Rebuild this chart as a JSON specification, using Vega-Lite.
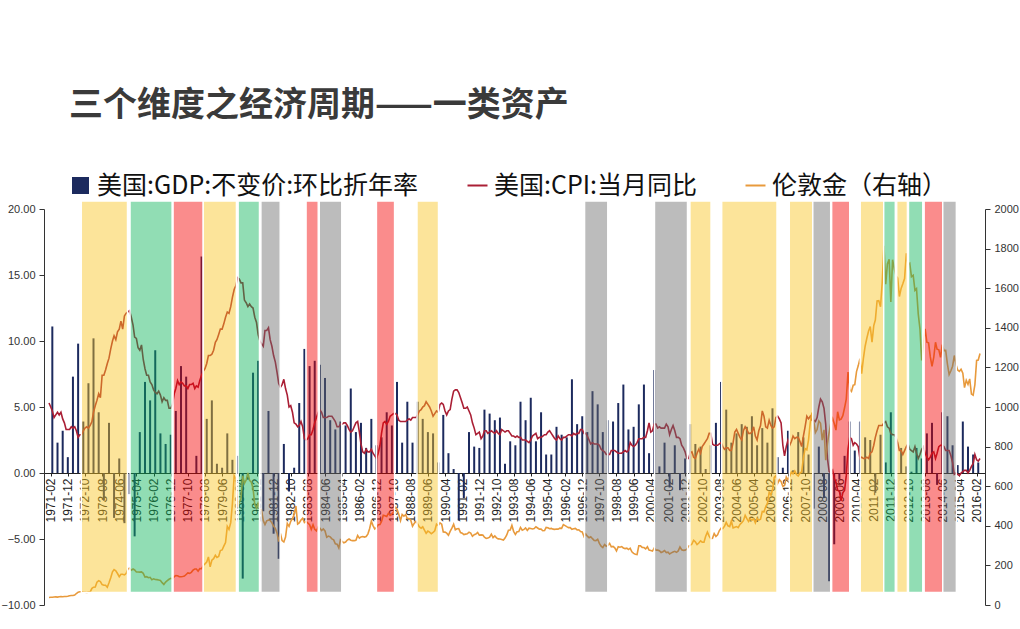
{
"$schema": "https://vega.github.io/schema/vega-lite/v6.json",
"width": 941, "height": 396,
"autosize": {"type": "none"},
"padding": {"left": 44, "top": 209, "right": 35, "bottom": 24},
"background": "white",
"title": {"text": "三个维度之经济周期——一类资产", "anchor": "start", "frame": "group", "dx": 25, "offset": 50, "font": "Noto Sans CJK SC", "fontSize": 34, "fontWeight": "bold", "color": "#3a3a3a"},
"config": {"view": {"stroke": null}, "font": "Liberation Sans", "axisX": {"labelOverlap": false, "labelSeparation": 0}, "axis": {"labelOverlap": false}},
"datasets": {
"gdp": [
{"d":"1971-03","v":11.1},{"d":"1971-06","v":2.3},{"d":"1971-09","v":3.2},{"d":"1971-12","v":1.2},
{"d":"1972-03","v":7.3},{"d":"1972-06","v":9.8},{"d":"1972-09","v":3.9},{"d":"1972-12","v":6.8},
{"d":"1973-03","v":10.2},{"d":"1973-06","v":4.6},{"d":"1973-09","v":-2.1},{"d":"1973-12","v":3.8},
{"d":"1974-03","v":-3.4},{"d":"1974-06","v":1.1},{"d":"1974-09","v":-3.8},{"d":"1974-12","v":-1.6},
{"d":"1975-03","v":-4.8},{"d":"1975-06","v":3.1},{"d":"1975-09","v":6.9},{"d":"1975-12","v":5.5},
{"d":"1976-03","v":9.3},{"d":"1976-06","v":3.0},{"d":"1976-09","v":2.2},{"d":"1976-12","v":2.9},
{"d":"1977-03","v":4.7},{"d":"1977-06","v":8.1},{"d":"1977-09","v":7.3},{"d":"1977-12","v":0.0},
{"d":"1978-03","v":1.3},{"d":"1978-06","v":16.4},{"d":"1978-09","v":4.1},{"d":"1978-12","v":5.5},
{"d":"1979-03","v":0.7},{"d":"1979-06","v":0.4},{"d":"1979-09","v":3.0},{"d":"1979-12","v":1.0},
{"d":"1980-03","v":1.3},{"d":"1980-06","v":-8.0},{"d":"1980-09","v":-0.5},{"d":"1980-12","v":7.6},
{"d":"1981-03","v":8.5},{"d":"1981-06","v":-2.9},{"d":"1981-09","v":4.7},{"d":"1981-12","v":-4.6},
{"d":"1982-03","v":-6.5},{"d":"1982-06","v":2.2},{"d":"1982-09","v":-1.4},{"d":"1982-12","v":0.4},
{"d":"1983-03","v":5.3},{"d":"1983-06","v":9.4},{"d":"1983-09","v":8.1},{"d":"1983-12","v":8.5},
{"d":"1984-03","v":8.2},{"d":"1984-06","v":7.2},{"d":"1984-09","v":4.0},{"d":"1984-12","v":3.3},
{"d":"1985-03","v":3.9},{"d":"1985-06","v":3.6},{"d":"1985-09","v":6.4},{"d":"1985-12","v":3.1},
{"d":"1986-03","v":3.8},{"d":"1986-06","v":1.9},{"d":"1986-09","v":4.1},{"d":"1986-12","v":2.1},
{"d":"1987-03","v":2.7},{"d":"1987-06","v":4.6},{"d":"1987-09","v":3.6},{"d":"1987-12","v":6.9},
{"d":"1988-03","v":2.3},{"d":"1988-06","v":5.4},{"d":"1988-09","v":2.3},{"d":"1988-12","v":5.4},
{"d":"1989-03","v":4.1},{"d":"1989-06","v":3.1},{"d":"1989-09","v":3.0},{"d":"1989-12","v":0.8},
{"d":"1990-03","v":4.4},{"d":"1990-06","v":1.5},{"d":"1990-09","v":0.3},{"d":"1990-12","v":-3.6},
{"d":"1991-03","v":-1.9},{"d":"1991-06","v":3.1},{"d":"1991-09","v":2.0},{"d":"1991-12","v":1.9},
{"d":"1992-03","v":4.8},{"d":"1992-06","v":4.5},{"d":"1992-09","v":4.0},{"d":"1992-12","v":4.2},
{"d":"1993-03","v":0.7},{"d":"1993-06","v":2.4},{"d":"1993-09","v":2.1},{"d":"1993-12","v":5.4},
{"d":"1994-03","v":4.0},{"d":"1994-06","v":5.7},{"d":"1994-09","v":2.4},{"d":"1994-12","v":4.6},
{"d":"1995-03","v":1.4},{"d":"1995-06","v":1.4},{"d":"1995-09","v":3.5},{"d":"1995-12","v":2.9},
{"d":"1996-03","v":2.7},{"d":"1996-06","v":7.1},{"d":"1996-09","v":3.7},{"d":"1996-12","v":4.3},
{"d":"1997-03","v":3.1},{"d":"1997-06","v":6.2},{"d":"1997-09","v":5.2},{"d":"1997-12","v":3.1},
{"d":"1998-03","v":4.0},{"d":"1998-06","v":3.9},{"d":"1998-09","v":5.3},{"d":"1998-12","v":6.7},
{"d":"1999-03","v":3.3},{"d":"1999-06","v":3.5},{"d":"1999-09","v":5.2},{"d":"1999-12","v":6.7},
{"d":"2000-03","v":1.5},{"d":"2000-06","v":7.8},{"d":"2000-09","v":0.5},{"d":"2000-12","v":2.3},
{"d":"2001-03","v":-1.1},{"d":"2001-06","v":2.1},{"d":"2001-09","v":-1.3},{"d":"2001-12","v":1.1},
{"d":"2002-03","v":3.7},{"d":"2002-06","v":2.2},{"d":"2002-09","v":2.0},{"d":"2002-12","v":0.3},
{"d":"2003-03","v":2.1},{"d":"2003-06","v":3.8},{"d":"2003-09","v":6.9},{"d":"2003-12","v":4.8},
{"d":"2004-03","v":2.3},{"d":"2004-06","v":3.0},{"d":"2004-09","v":3.7},{"d":"2004-12","v":3.5},
{"d":"2005-03","v":4.3},{"d":"2005-06","v":2.1},{"d":"2005-09","v":3.4},{"d":"2005-12","v":2.3},
{"d":"2006-03","v":4.9},{"d":"2006-06","v":1.2},{"d":"2006-09","v":0.4},{"d":"2006-12","v":3.2},
{"d":"2007-03","v":0.2},{"d":"2007-06","v":3.1},{"d":"2007-09","v":2.7},{"d":"2007-12","v":1.4},
{"d":"2008-03","v":-2.7},{"d":"2008-06","v":2.0},{"d":"2008-09","v":-1.9},{"d":"2008-12","v":-8.2},
{"d":"2009-03","v":-5.4},{"d":"2009-06","v":-0.5},{"d":"2009-09","v":1.3},{"d":"2009-12","v":3.9},
{"d":"2010-03","v":1.7},{"d":"2010-06","v":3.9},{"d":"2010-09","v":2.7},{"d":"2010-12","v":2.5},
{"d":"2011-03","v":-1.5},{"d":"2011-06","v":2.9},{"d":"2011-09","v":0.8},{"d":"2011-12","v":4.6},
{"d":"2012-03","v":2.7},{"d":"2012-06","v":1.9},{"d":"2012-09","v":0.5},{"d":"2012-12","v":0.1},
{"d":"2013-03","v":1.9},{"d":"2013-06","v":1.1},{"d":"2013-09","v":3.0},{"d":"2013-12","v":3.8},
{"d":"2014-03","v":-0.9},{"d":"2014-06","v":4.6},{"d":"2014-09","v":4.3},{"d":"2014-12","v":2.1},
{"d":"2015-03","v":0.6},{"d":"2015-06","v":3.9},{"d":"2015-09","v":2.0},{"d":"2015-12","v":1.4},
{"d":"2016-03","v":0.8}
],
"m": [
{"d":"1971-01","c":5.3,"g":38},{"d":"1971-02","c":5.0,"g":39},{"d":"1971-03","c":4.7,"g":39},{"d":"1971-04","c":4.2,"g":40},{"d":"1971-05","c":4.4,"g":41},{"d":"1971-06","c":4.6,"g":40},{"d":"1971-07","c":4.4,"g":42},{"d":"1971-08","c":4.6,"g":43},{"d":"1971-09","c":4.1,"g":42},{"d":"1971-10","c":3.8,"g":43},{"d":"1971-11","c":3.3,"g":43},{"d":"1971-12","c":3.3,"g":44},
{"d":"1972-01","c":3.3,"g":47},{"d":"1972-02","c":3.5,"g":48},{"d":"1972-03","c":3.4,"g":48},{"d":"1972-04","c":3.5,"g":50},{"d":"1972-05","c":3.2,"g":58},{"d":"1972-06","c":2.7,"g":65},{"d":"1972-07","c":2.9,"g":67},{"d":"1972-08","c":2.9,"g":67},{"d":"1972-09","c":3.2,"g":65},{"d":"1972-10","c":3.4,"g":64},{"d":"1972-11","c":3.5,"g":63},{"d":"1972-12","c":3.4,"g":65},
{"d":"1973-01","c":3.6,"g":66},{"d":"1973-02","c":3.9,"g":84},{"d":"1973-03","c":4.6,"g":90},{"d":"1973-04","c":5.1,"g":91},{"d":"1973-05","c":5.5,"g":115},{"d":"1973-06","c":6.0,"g":123},{"d":"1973-07","c":5.7,"g":118},{"d":"1973-08","c":7.4,"g":103},{"d":"1973-09","c":7.4,"g":100},{"d":"1973-10","c":7.8,"g":100},{"d":"1973-11","c":8.3,"g":90},{"d":"1973-12","c":8.7,"g":112},
{"d":"1974-01","c":9.4,"g":138},{"d":"1974-02","c":10.0,"g":168},{"d":"1974-03","c":10.4,"g":179},{"d":"1974-04","c":10.1,"g":173},{"d":"1974-05","c":10.7,"g":159},{"d":"1974-06","c":10.9,"g":143},{"d":"1974-07","c":11.5,"g":155},{"d":"1974-08","c":10.9,"g":155},{"d":"1974-09","c":11.9,"g":152},{"d":"1974-10","c":12.1,"g":159},{"d":"1974-11","c":12.2,"g":182},{"d":"1974-12","c":12.3,"g":187},
{"d":"1975-01","c":11.8,"g":176},{"d":"1975-02","c":11.2,"g":182},{"d":"1975-03","c":10.3,"g":177},{"d":"1975-04","c":10.2,"g":167},{"d":"1975-05","c":9.5,"g":167},{"d":"1975-06","c":9.3,"g":166},{"d":"1975-07","c":9.7,"g":167},{"d":"1975-08","c":8.6,"g":160},{"d":"1975-09","c":7.9,"g":141},{"d":"1975-10","c":7.4,"g":143},{"d":"1975-11","c":7.4,"g":138},{"d":"1975-12","c":6.9,"g":140},
{"d":"1976-01","c":6.7,"g":128},{"d":"1976-02","c":6.3,"g":132},{"d":"1976-03","c":6.1,"g":129},{"d":"1976-04","c":6.0,"g":128},{"d":"1976-05","c":6.2,"g":126},{"d":"1976-06","c":5.9,"g":124},{"d":"1976-07","c":5.4,"g":113},{"d":"1976-08","c":5.7,"g":104},{"d":"1976-09","c":5.5,"g":116},{"d":"1976-10","c":5.5,"g":123},{"d":"1976-11","c":4.9,"g":130},{"d":"1976-12","c":4.9,"g":135},
{"d":"1977-01","c":5.2,"g":132},{"d":"1977-02","c":6.0,"g":143},{"d":"1977-03","c":6.4,"g":149},{"d":"1977-04","c":7.0,"g":148},{"d":"1977-05","c":6.7,"g":143},{"d":"1977-06","c":6.9,"g":143},{"d":"1977-07","c":6.8,"g":144},{"d":"1977-08","c":6.6,"g":146},{"d":"1977-09","c":6.6,"g":154},{"d":"1977-10","c":6.4,"g":162},{"d":"1977-11","c":6.7,"g":160},{"d":"1977-12","c":6.7,"g":165},
{"d":"1978-01","c":6.8,"g":176},{"d":"1978-02","c":6.4,"g":182},{"d":"1978-03","c":6.6,"g":182},{"d":"1978-04","c":6.5,"g":171},{"d":"1978-05","c":7.0,"g":184},{"d":"1978-06","c":7.4,"g":183},{"d":"1978-07","c":7.7,"g":200},{"d":"1978-08","c":7.9,"g":208},{"d":"1978-09","c":8.3,"g":217},{"d":"1978-10","c":8.9,"g":243},{"d":"1978-11","c":8.9,"g":193},{"d":"1978-12","c":9.0,"g":226},
{"d":"1979-01","c":9.3,"g":234},{"d":"1979-02","c":9.9,"g":251},{"d":"1979-03","c":10.1,"g":240},{"d":"1979-04","c":10.5,"g":245},{"d":"1979-05","c":10.9,"g":275},{"d":"1979-06","c":10.9,"g":278},{"d":"1979-07","c":11.3,"g":297},{"d":"1979-08","c":11.8,"g":315},{"d":"1979-09","c":12.2,"g":397},{"d":"1979-10","c":12.1,"g":382},{"d":"1979-11","c":12.6,"g":416},{"d":"1979-12","c":13.3,"g":512},
{"d":"1980-01","c":13.9,"g":653},{"d":"1980-02","c":14.2,"g":637},{"d":"1980-03","c":14.8,"g":495},{"d":"1980-04","c":14.7,"g":518},{"d":"1980-05","c":14.4,"g":536},{"d":"1980-06","c":14.4,"g":653},{"d":"1980-07","c":13.1,"g":614},{"d":"1980-08","c":12.9,"g":631},{"d":"1980-09","c":12.6,"g":667},{"d":"1980-10","c":12.8,"g":629},{"d":"1980-11","c":12.6,"g":620},{"d":"1980-12","c":12.5,"g":590},
{"d":"1981-01","c":11.8,"g":507},{"d":"1981-02","c":11.4,"g":489},{"d":"1981-03","c":10.5,"g":514},{"d":"1981-04","c":10.0,"g":483},{"d":"1981-05","c":9.8,"g":479},{"d":"1981-06","c":9.6,"g":426},{"d":"1981-07","c":10.8,"g":406},{"d":"1981-08","c":10.8,"g":425},{"d":"1981-09","c":11.0,"g":429},{"d":"1981-10","c":10.1,"g":427},{"d":"1981-11","c":9.6,"g":415},{"d":"1981-12","c":8.9,"g":398},
{"d":"1982-01","c":8.4,"g":387},{"d":"1982-02","c":7.6,"g":363},{"d":"1982-03","c":6.8,"g":320},{"d":"1982-04","c":6.5,"g":361},{"d":"1982-05","c":6.7,"g":325},{"d":"1982-06","c":7.1,"g":318},{"d":"1982-07","c":6.4,"g":343},{"d":"1982-08","c":5.9,"g":412},{"d":"1982-09","c":5.0,"g":397},{"d":"1982-10","c":5.1,"g":423},{"d":"1982-11","c":4.6,"g":436},{"d":"1982-12","c":3.8,"g":457},
{"d":"1983-01","c":3.7,"g":500},{"d":"1983-02","c":3.5,"g":409},{"d":"1983-03","c":3.6,"g":415},{"d":"1983-04","c":3.9,"g":429},{"d":"1983-05","c":3.5,"g":438},{"d":"1983-06","c":2.6,"g":416},{"d":"1983-07","c":2.5,"g":422},{"d":"1983-08","c":2.6,"g":414},{"d":"1983-09","c":2.9,"g":405},{"d":"1983-10","c":2.9,"g":382},{"d":"1983-11","c":3.3,"g":405},{"d":"1983-12","c":3.8,"g":382},
{"d":"1984-01","c":4.2,"g":374},{"d":"1984-02","c":4.6,"g":394},{"d":"1984-03","c":4.8,"g":389},{"d":"1984-04","c":4.6,"g":376},{"d":"1984-05","c":4.2,"g":384},{"d":"1984-06","c":4.2,"g":374},{"d":"1984-07","c":4.2,"g":342},{"d":"1984-08","c":4.3,"g":348},{"d":"1984-09","c":4.3,"g":344},{"d":"1984-10","c":4.3,"g":334},{"d":"1984-11","c":4.1,"g":329},{"d":"1984-12","c":3.9,"g":309},
{"d":"1985-01","c":3.5,"g":307},{"d":"1985-02","c":3.5,"g":288},{"d":"1985-03","c":3.7,"g":329},{"d":"1985-04","c":3.7,"g":321},{"d":"1985-05","c":3.8,"g":314},{"d":"1985-06","c":3.8,"g":318},{"d":"1985-07","c":3.6,"g":328},{"d":"1985-08","c":3.3,"g":333},{"d":"1985-09","c":3.1,"g":327},{"d":"1985-10","c":3.2,"g":325},{"d":"1985-11","c":3.5,"g":325},{"d":"1985-12","c":3.8,"g":327},
{"d":"1986-01","c":3.9,"g":351},{"d":"1986-02","c":3.1,"g":338},{"d":"1986-03","c":2.2,"g":344},{"d":"1986-04","c":1.6,"g":346},{"d":"1986-05","c":1.5,"g":343},{"d":"1986-06","c":1.8,"g":346},{"d":"1986-07","c":1.6,"g":358},{"d":"1986-08","c":1.6,"g":385},{"d":"1986-09","c":1.8,"g":423},{"d":"1986-10","c":1.5,"g":401},{"d":"1986-11","c":1.3,"g":384},{"d":"1986-12","c":1.1,"g":391},
{"d":"1987-01","c":1.5,"g":405},{"d":"1987-02","c":2.1,"g":406},{"d":"1987-03","c":3.0,"g":422},{"d":"1987-04","c":3.8,"g":453},{"d":"1987-05","c":3.9,"g":451},{"d":"1987-06","c":3.7,"g":447},{"d":"1987-07","c":3.9,"g":463},{"d":"1987-08","c":4.3,"g":453},{"d":"1987-09","c":4.4,"g":460},{"d":"1987-10","c":4.5,"g":469},{"d":"1987-11","c":4.5,"g":493},{"d":"1987-12","c":4.4,"g":484},
{"d":"1988-01","c":4.0,"g":458},{"d":"1988-02","c":3.9,"g":426},{"d":"1988-03","c":3.9,"g":457},{"d":"1988-04","c":3.9,"g":449},{"d":"1988-05","c":3.9,"g":456},{"d":"1988-06","c":4.0,"g":437},{"d":"1988-07","c":4.1,"g":437},{"d":"1988-08","c":4.0,"g":428},{"d":"1988-09","c":4.2,"g":398},{"d":"1988-10","c":4.2,"g":412},{"d":"1988-11","c":4.2,"g":423},{"d":"1988-12","c":4.4,"g":410},
{"d":"1989-01","c":4.7,"g":394},{"d":"1989-02","c":4.8,"g":388},{"d":"1989-03","c":5.0,"g":395},{"d":"1989-04","c":5.1,"g":378},{"d":"1989-05","c":5.4,"g":362},{"d":"1989-06","c":5.2,"g":373},{"d":"1989-07","c":5.0,"g":368},{"d":"1989-08","c":4.7,"g":360},{"d":"1989-09","c":4.3,"g":367},{"d":"1989-10","c":4.5,"g":375},{"d":"1989-11","c":4.7,"g":408},{"d":"1989-12","c":4.6,"g":401},
{"d":"1990-01","c":5.2,"g":415},{"d":"1990-02","c":5.3,"g":408},{"d":"1990-03","c":5.2,"g":369},{"d":"1990-04","c":4.7,"g":368},{"d":"1990-05","c":4.4,"g":363},{"d":"1990-06","c":4.7,"g":352},{"d":"1990-07","c":4.8,"g":372},{"d":"1990-08","c":5.6,"g":388},{"d":"1990-09","c":6.2,"g":408},{"d":"1990-10","c":6.3,"g":380},{"d":"1990-11","c":6.3,"g":385},{"d":"1990-12","c":6.1,"g":386},
{"d":"1991-01","c":5.7,"g":366},{"d":"1991-02","c":5.3,"g":363},{"d":"1991-03","c":4.9,"g":356},{"d":"1991-04","c":4.9,"g":358},{"d":"1991-05","c":5.0,"g":360},{"d":"1991-06","c":4.7,"g":368},{"d":"1991-07","c":4.4,"g":363},{"d":"1991-08","c":3.8,"g":347},{"d":"1991-09","c":3.4,"g":355},{"d":"1991-10","c":2.9,"g":358},{"d":"1991-11","c":3.0,"g":366},{"d":"1991-12","c":3.1,"g":353},
{"d":"1992-01","c":2.6,"g":354},{"d":"1992-02","c":2.8,"g":353},{"d":"1992-03","c":3.2,"g":342},{"d":"1992-04","c":3.2,"g":336},{"d":"1992-05","c":3.0,"g":338},{"d":"1992-06","c":3.1,"g":343},{"d":"1992-07","c":3.2,"g":358},{"d":"1992-08","c":3.1,"g":340},{"d":"1992-09","c":3.0,"g":349},{"d":"1992-10","c":3.2,"g":339},{"d":"1992-11","c":3.0,"g":334},{"d":"1992-12","c":2.9,"g":333},
{"d":"1993-01","c":3.3,"g":331},{"d":"1993-02","c":3.2,"g":328},{"d":"1993-03","c":3.1,"g":338},{"d":"1993-04","c":3.2,"g":354},{"d":"1993-05","c":3.2,"g":378},{"d":"1993-06","c":3.0,"g":379},{"d":"1993-07","c":2.8,"g":402},{"d":"1993-08","c":2.8,"g":372},{"d":"1993-09","c":2.7,"g":356},{"d":"1993-10","c":2.8,"g":370},{"d":"1993-11","c":2.7,"g":371},{"d":"1993-12","c":2.7,"g":392},
{"d":"1994-01","c":2.5,"g":378},{"d":"1994-02","c":2.5,"g":382},{"d":"1994-03","c":2.5,"g":389},{"d":"1994-04","c":2.4,"g":377},{"d":"1994-05","c":2.3,"g":388},{"d":"1994-06","c":2.5,"g":386},{"d":"1994-07","c":2.8,"g":384},{"d":"1994-08","c":2.9,"g":386},{"d":"1994-09","c":3.0,"g":395},{"d":"1994-10","c":2.6,"g":389},{"d":"1994-11","c":2.7,"g":383},{"d":"1994-12","c":2.7,"g":383},
{"d":"1995-01","c":2.8,"g":375},{"d":"1995-02","c":2.9,"g":376},{"d":"1995-03","c":2.9,"g":392},{"d":"1995-04","c":3.1,"g":390},{"d":"1995-05","c":3.2,"g":385},{"d":"1995-06","c":3.0,"g":387},{"d":"1995-07","c":2.8,"g":383},{"d":"1995-08","c":2.6,"g":382},{"d":"1995-09","c":2.5,"g":384},{"d":"1995-10","c":2.8,"g":383},{"d":"1995-11","c":2.6,"g":388},{"d":"1995-12","c":2.5,"g":387},
{"d":"1996-01","c":2.7,"g":406},{"d":"1996-02","c":2.7,"g":401},{"d":"1996-03","c":2.8,"g":396},{"d":"1996-04","c":2.9,"g":391},{"d":"1996-05","c":2.9,"g":391},{"d":"1996-06","c":2.8,"g":382},{"d":"1996-07","c":3.0,"g":385},{"d":"1996-08","c":2.9,"g":387},{"d":"1996-09","c":3.0,"g":379},{"d":"1996-10","c":3.0,"g":380},{"d":"1996-11","c":3.3,"g":371},{"d":"1996-12","c":3.3,"g":369},
{"d":"1997-01","c":3.0,"g":346},{"d":"1997-02","c":3.0,"g":359},{"d":"1997-03","c":2.8,"g":348},{"d":"1997-04","c":2.5,"g":340},{"d":"1997-05","c":2.2,"g":345},{"d":"1997-06","c":2.3,"g":335},{"d":"1997-07","c":2.2,"g":326},{"d":"1997-08","c":2.2,"g":325},{"d":"1997-09","c":2.2,"g":332},{"d":"1997-10","c":2.1,"g":311},{"d":"1997-11","c":1.8,"g":297},{"d":"1997-12","c":1.7,"g":290},
{"d":"1998-01","c":1.6,"g":305},{"d":"1998-02","c":1.4,"g":297},{"d":"1998-03","c":1.4,"g":301},{"d":"1998-04","c":1.4,"g":311},{"d":"1998-05","c":1.7,"g":294},{"d":"1998-06","c":1.7,"g":296},{"d":"1998-07","c":1.7,"g":289},{"d":"1998-08","c":1.6,"g":273},{"d":"1998-09","c":1.5,"g":294},{"d":"1998-10","c":1.5,"g":292},{"d":"1998-11","c":1.5,"g":295},{"d":"1998-12","c":1.6,"g":288},
{"d":"1999-01","c":1.7,"g":285},{"d":"1999-02","c":1.6,"g":287},{"d":"1999-03","c":1.7,"g":280},{"d":"1999-04","c":2.3,"g":287},{"d":"1999-05","c":2.1,"g":269},{"d":"1999-06","c":2.0,"g":261},{"d":"1999-07","c":2.1,"g":256},{"d":"1999-08","c":2.3,"g":255},{"d":"1999-09","c":2.6,"g":299},{"d":"1999-10","c":2.6,"g":299},{"d":"1999-11","c":2.6,"g":291},{"d":"1999-12","c":2.7,"g":290},
{"d":"2000-01","c":2.7,"g":283},{"d":"2000-02","c":3.2,"g":294},{"d":"2000-03","c":3.8,"g":277},{"d":"2000-04","c":3.1,"g":275},{"d":"2000-05","c":3.2,"g":272},{"d":"2000-06","c":3.7,"g":288},{"d":"2000-07","c":3.7,"g":277},{"d":"2000-08","c":3.4,"g":277},{"d":"2000-09","c":3.5,"g":274},{"d":"2000-10","c":3.4,"g":265},{"d":"2000-11","c":3.4,"g":269},{"d":"2000-12","c":3.4,"g":275},
{"d":"2001-01","c":3.7,"g":265},{"d":"2001-02","c":3.5,"g":267},{"d":"2001-03","c":2.9,"g":258},{"d":"2001-04","c":3.3,"g":263},{"d":"2001-05","c":3.6,"g":268},{"d":"2001-06","c":3.2,"g":271},{"d":"2001-07","c":2.7,"g":266},{"d":"2001-08","c":2.7,"g":273},{"d":"2001-09","c":2.6,"g":293},{"d":"2001-10","c":2.1,"g":279},{"d":"2001-11","c":1.9,"g":276},{"d":"2001-12","c":1.6,"g":277},
{"d":"2002-01","c":1.1,"g":282},{"d":"2002-02","c":1.1,"g":297},{"d":"2002-03","c":1.5,"g":301},{"d":"2002-04","c":1.6,"g":308},{"d":"2002-05","c":1.2,"g":327},{"d":"2002-06","c":1.1,"g":319},{"d":"2002-07","c":1.5,"g":305},{"d":"2002-08","c":1.8,"g":313},{"d":"2002-09","c":1.5,"g":324},{"d":"2002-10","c":2.0,"g":317},{"d":"2002-11","c":2.2,"g":317},{"d":"2002-12","c":2.4,"g":347},
{"d":"2003-01","c":2.6,"g":368},{"d":"2003-02","c":3.0,"g":348},{"d":"2003-03","c":3.0,"g":335},{"d":"2003-04","c":2.2,"g":337},{"d":"2003-05","c":2.1,"g":361},{"d":"2003-06","c":2.1,"g":346},{"d":"2003-07","c":2.1,"g":355},{"d":"2003-08","c":2.2,"g":376},{"d":"2003-09","c":2.3,"g":388},{"d":"2003-10","c":2.0,"g":386},{"d":"2003-11","c":1.8,"g":398},{"d":"2003-12","c":1.9,"g":417},
{"d":"2004-01","c":1.9,"g":400},{"d":"2004-02","c":1.7,"g":396},{"d":"2004-03","c":1.7,"g":424},{"d":"2004-04","c":2.3,"g":389},{"d":"2004-05","c":3.1,"g":393},{"d":"2004-06","c":3.3,"g":396},{"d":"2004-07","c":3.0,"g":391},{"d":"2004-08","c":2.7,"g":407},{"d":"2004-09","c":2.5,"g":416},{"d":"2004-10","c":3.2,"g":426},{"d":"2004-11","c":3.5,"g":453},{"d":"2004-12","c":3.3,"g":436},
{"d":"2005-01","c":3.0,"g":422},{"d":"2005-02","c":3.0,"g":436},{"d":"2005-03","c":3.1,"g":428},{"d":"2005-04","c":3.5,"g":436},{"d":"2005-05","c":2.8,"g":415},{"d":"2005-06","c":2.5,"g":437},{"d":"2005-07","c":3.2,"g":429},{"d":"2005-08","c":3.6,"g":433},{"d":"2005-09","c":4.7,"g":473},{"d":"2005-10","c":4.3,"g":471},{"d":"2005-11","c":3.5,"g":496},{"d":"2005-12","c":3.4,"g":513},
{"d":"2006-01","c":4.0,"g":569},{"d":"2006-02","c":3.6,"g":556},{"d":"2006-03","c":3.4,"g":582},{"d":"2006-04","c":3.5,"g":644},{"d":"2006-05","c":4.2,"g":653},{"d":"2006-06","c":4.3,"g":614},{"d":"2006-07","c":4.1,"g":633},{"d":"2006-08","c":3.8,"g":624},{"d":"2006-09","c":2.1,"g":599},{"d":"2006-10","c":1.3,"g":604},{"d":"2006-11","c":2.0,"g":647},{"d":"2006-12","c":2.5,"g":632},
{"d":"2007-01","c":2.1,"g":651},{"d":"2007-02","c":2.4,"g":672},{"d":"2007-03","c":2.8,"g":662},{"d":"2007-04","c":2.6,"g":677},{"d":"2007-05","c":2.7,"g":659},{"d":"2007-06","c":2.7,"g":651},{"d":"2007-07","c":2.4,"g":666},{"d":"2007-08","c":2.0,"g":672},{"d":"2007-09","c":2.8,"g":743},{"d":"2007-10","c":3.5,"g":790},{"d":"2007-11","c":4.3,"g":784},{"d":"2007-12","c":4.1,"g":834},
{"d":"2008-01","c":4.3,"g":923},{"d":"2008-02","c":4.0,"g":972},{"d":"2008-03","c":4.0,"g":934},{"d":"2008-04","c":3.9,"g":871},{"d":"2008-05","c":4.2,"g":886},{"d":"2008-06","c":5.0,"g":930},{"d":"2008-07","c":5.6,"g":918},{"d":"2008-08","c":5.4,"g":833},{"d":"2008-09","c":4.9,"g":885},{"d":"2008-10","c":3.7,"g":731},{"d":"2008-11","c":1.1,"g":815},{"d":"2008-12","c":0.1,"g":870},
{"d":"2009-01","c":0.0,"g":920},{"d":"2009-02","c":0.2,"g":942},{"d":"2009-03","c":-0.4,"g":917},{"d":"2009-04","c":-0.7,"g":883},{"d":"2009-05","c":-1.3,"g":976},{"d":"2009-06","c":-1.4,"g":935},{"d":"2009-07","c":-2.1,"g":939},{"d":"2009-08","c":-1.5,"g":956},{"d":"2009-09","c":-1.3,"g":996},{"d":"2009-10","c":-0.2,"g":1040},{"d":"2009-11","c":1.8,"g":1176},{"d":"2009-12","c":2.7,"g":1088},
{"d":"2010-01","c":2.6,"g":1079},{"d":"2010-02","c":2.1,"g":1110},{"d":"2010-03","c":2.3,"g":1113},{"d":"2010-04","c":2.2,"g":1179},{"d":"2010-05","c":2.0,"g":1208},{"d":"2010-06","c":1.1,"g":1244},{"d":"2010-07","c":1.2,"g":1169},{"d":"2010-08","c":1.1,"g":1246},{"d":"2010-09","c":1.1,"g":1307},{"d":"2010-10","c":1.2,"g":1347},{"d":"2010-11","c":1.1,"g":1384},{"d":"2010-12","c":1.5,"g":1406},
{"d":"2011-01","c":1.6,"g":1327},{"d":"2011-02","c":2.1,"g":1411},{"d":"2011-03","c":2.7,"g":1439},{"d":"2011-04","c":3.2,"g":1536},{"d":"2011-05","c":3.6,"g":1537},{"d":"2011-06","c":3.6,"g":1506},{"d":"2011-07","c":3.6,"g":1629},{"d":"2011-08","c":3.8,"g":1814},{"d":"2011-09","c":3.9,"g":1620},{"d":"2011-10","c":3.5,"g":1722},{"d":"2011-11","c":3.4,"g":1746},{"d":"2011-12","c":3.0,"g":1531},
{"d":"2012-01","c":2.9,"g":1744},{"d":"2012-02","c":2.9,"g":1697},{"d":"2012-03","c":2.7,"g":1663},{"d":"2012-04","c":2.3,"g":1651},{"d":"2012-05","c":1.7,"g":1558},{"d":"2012-06","c":1.7,"g":1599},{"d":"2012-07","c":1.4,"g":1622},{"d":"2012-08","c":1.7,"g":1649},{"d":"2012-09","c":2.0,"g":1776},{"d":"2012-10","c":2.2,"g":1719},{"d":"2012-11","c":1.8,"g":1726},{"d":"2012-12","c":1.7,"g":1658},
{"d":"2013-01","c":1.6,"g":1665},{"d":"2013-02","c":2.0,"g":1589},{"d":"2013-03","c":1.5,"g":1598},{"d":"2013-04","c":1.1,"g":1469},{"d":"2013-05","c":1.4,"g":1395},{"d":"2013-06","c":1.8,"g":1235},{"d":"2013-07","c":2.0,"g":1315},{"d":"2013-08","c":1.5,"g":1395},{"d":"2013-09","c":1.2,"g":1327},{"d":"2013-10","c":1.0,"g":1324},{"d":"2013-11","c":1.2,"g":1253},{"d":"2013-12","c":1.5,"g":1205},
{"d":"2014-01","c":1.6,"g":1251},{"d":"2014-02","c":1.1,"g":1327},{"d":"2014-03","c":1.5,"g":1292},{"d":"2014-04","c":2.0,"g":1289},{"d":"2014-05","c":2.1,"g":1251},{"d":"2014-06","c":2.1,"g":1315},{"d":"2014-07","c":2.0,"g":1285},{"d":"2014-08","c":1.7,"g":1286},{"d":"2014-09","c":1.7,"g":1217},{"d":"2014-10","c":1.7,"g":1164},{"d":"2014-11","c":1.3,"g":1183},{"d":"2014-12","c":0.8,"g":1206},
{"d":"2015-01","c":-0.1,"g":1260},{"d":"2015-02","c":0.0,"g":1214},{"d":"2015-03","c":-0.1,"g":1187},{"d":"2015-04","c":-0.2,"g":1180},{"d":"2015-05","c":0.0,"g":1191},{"d":"2015-06","c":0.1,"g":1171},{"d":"2015-07","c":0.2,"g":1098},{"d":"2015-08","c":0.2,"g":1135},{"d":"2015-09","c":0.0,"g":1114},{"d":"2015-10","c":0.2,"g":1142},{"d":"2015-11","c":0.5,"g":1065},{"d":"2015-12","c":0.7,"g":1060},
{"d":"2016-01","c":1.4,"g":1112},{"d":"2016-02","c":1.0,"g":1235},{"d":"2016-03","c":0.9,"g":1237},{"d":"2016-04","c":1.1,"g":1270}
],
"bands": [
{"s":"1972-07-28","e":"1974-10-25","p":"黄"},
{"s":"1974-12-10","e":"1976-12-25","p":"绿"},
{"s":"1977-01-12","e":"1978-07-01","p":"红"},
{"s":"1978-07-01","e":"1980-02-10","p":"黄"},
{"s":"1980-03-12","e":"1981-03-25","p":"绿"},
{"s":"1981-04-20","e":"1982-03-28","p":"灰"},
{"s":"1983-07-01","e":"1984-02-01","p":"红"},
{"s":"1984-02-20","e":"1985-03-25","p":"灰"},
{"s":"1986-12-01","e":"1987-10-18","p":"红"},
{"s":"1988-11-20","e":"1989-12-06","p":"黄"},
{"s":"1997-01-12","e":"1998-02-27","p":"灰"},
{"s":"2000-06-06","e":"2002-01-12","p":"灰"},
{"s":"2002-02-25","e":"2003-03-06","p":"黄"},
{"s":"2003-09-12","e":"2006-05-20","p":"黄"},
{"s":"2006-12-25","e":"2008-02-15","p":"黄"},
{"s":"2008-02-15","e":"2008-12-28","p":"灰"},
{"s":"2009-01-15","e":"2009-12-01","p":"红"},
{"s":"2010-06-06","e":"2011-07-28","p":"黄"},
{"s":"2011-07-28","e":"2012-02-18","p":"绿"},
{"s":"2012-03-15","e":"2012-09-20","p":"黄"},
{"s":"2012-10-10","e":"2013-06-20","p":"绿"},
{"s":"2013-07-15","e":"2014-06-10","p":"红"},
{"s":"2014-06-10","e":"2015-02-06","p":"灰"}
]
},
"encoding": {
"x": {"field": "d", "type": "temporal",
"scale": {"type": "utc", "domain": [{"year":1971,"month":1,"date":1,"utc":true},{"year":2016,"month":4,"date":1,"utc":true}]},
"axis": {"title": null, "orient": "bottom", "offset": -132, "grid": false,
"values": [{"year":1971,"month":2,"date":1,"utc":true},{"year":1971,"month":12,"date":1,"utc":true},{"year":1972,"month":10,"date":1,"utc":true},{"year":1973,"month":8,"date":1,"utc":true},{"year":1974,"month":6,"date":1,"utc":true},{"year":1975,"month":4,"date":1,"utc":true},{"year":1976,"month":2,"date":1,"utc":true},{"year":1976,"month":12,"date":1,"utc":true},{"year":1977,"month":10,"date":1,"utc":true},{"year":1978,"month":8,"date":1,"utc":true},{"year":1979,"month":6,"date":1,"utc":true},{"year":1980,"month":4,"date":1,"utc":true},{"year":1981,"month":2,"date":1,"utc":true},{"year":1981,"month":12,"date":1,"utc":true},{"year":1982,"month":10,"date":1,"utc":true},{"year":1983,"month":8,"date":1,"utc":true},{"year":1984,"month":6,"date":1,"utc":true},{"year":1985,"month":4,"date":1,"utc":true},{"year":1986,"month":2,"date":1,"utc":true},{"year":1986,"month":12,"date":1,"utc":true},{"year":1987,"month":10,"date":1,"utc":true},{"year":1988,"month":8,"date":1,"utc":true},{"year":1989,"month":6,"date":1,"utc":true},{"year":1990,"month":4,"date":1,"utc":true},{"year":1991,"month":2,"date":1,"utc":true},{"year":1991,"month":12,"date":1,"utc":true},{"year":1992,"month":10,"date":1,"utc":true},{"year":1993,"month":8,"date":1,"utc":true},{"year":1994,"month":6,"date":1,"utc":true},{"year":1995,"month":4,"date":1,"utc":true},{"year":1996,"month":2,"date":1,"utc":true},{"year":1996,"month":12,"date":1,"utc":true},{"year":1997,"month":10,"date":1,"utc":true},{"year":1998,"month":8,"date":1,"utc":true},{"year":1999,"month":6,"date":1,"utc":true},{"year":2000,"month":4,"date":1,"utc":true},{"year":2001,"month":2,"date":1,"utc":true},{"year":2001,"month":12,"date":1,"utc":true},{"year":2002,"month":10,"date":1,"utc":true},{"year":2003,"month":8,"date":1,"utc":true},{"year":2004,"month":6,"date":1,"utc":true},{"year":2005,"month":4,"date":1,"utc":true},{"year":2006,"month":2,"date":1,"utc":true},{"year":2006,"month":12,"date":1,"utc":true},{"year":2007,"month":10,"date":1,"utc":true},{"year":2008,"month":8,"date":1,"utc":true},{"year":2009,"month":6,"date":1,"utc":true},{"year":2010,"month":4,"date":1,"utc":true},{"year":2011,"month":2,"date":1,"utc":true},{"year":2011,"month":12,"date":1,"utc":true},{"year":2012,"month":10,"date":1,"utc":true},{"year":2013,"month":8,"date":1,"utc":true},{"year":2014,"month":6,"date":1,"utc":true},{"year":2015,"month":4,"date":1,"utc":true},{"year":2016,"month":2,"date":1,"utc":true}],
"labelExpr": "utcFormat(datum.value, '%Y-%m')",
"labelAngle": 270, "labelFontSize": 12, "labelColor": "#222222", "labelPadding": 2, "labelFlush": false, "labelOverlap": false, "labelBound": false,
"domainColor": "#222222", "domainWidth": 1.2, "tickColor": "#222222", "tickSize": 3}}
},
"layer": [
{
"data": {"name": "gdp"},
"mark": {"type": "bar", "size": 2},
"encoding": {
"y": {"field": "v", "type": "quantitative",
"scale": {"domain": [-10, 20], "nice": false, "zero": false},
"axis": {"orient": "left", "title": null, "grid": false, "values": [-10,-5,0,5,10,15,20], "format": ".2f",
"labelFontSize": 11, "labelColor": "#333333", "labelPadding": 4, "tickSize": 5, "tickColor": "#333333", "domainColor": "#333333"}},
"color": {"datum": "美国:GDP:不变价:环比折年率", "type": "nominal",
"scale": {"range": ["#1C2A5E"]},
"legend": {"orient": "none", "legendX": 24, "legendY": -36, "title": null, "padding": 0, "symbolType": "square", "symbolSize": 289, "symbolStrokeWidth": 0, "labelFont": "Noto Sans CJK SC", "labelFontSize": 25, "labelColor": "#111111", "labelLimit": 700, "labelOffset": 4}}
}
},
{
"data": {"name": "m"},
"mark": {"type": "line", "strokeWidth": 1.6},
"encoding": {
"y": {"field": "c", "type": "quantitative", "scale": {"domain": [-10, 20], "nice": false, "zero": false}, "axis": null},
"color": {"datum": "美国:CPI:当月同比", "type": "nominal",
"scale": {"range": ["#AA1F35"]},
"legend": {"orient": "none", "legendX": 421, "legendY": -36, "title": null, "padding": 0, "symbolType": "stroke", "symbolSize": 400, "symbolStrokeWidth": 2, "labelFont": "Noto Sans CJK SC", "labelFontSize": 25, "labelColor": "#111111", "labelLimit": 700, "labelOffset": 4}}
}
},
{
"data": {"name": "m"},
"mark": {"type": "line", "strokeWidth": 1.6},
"encoding": {
"y": {"field": "g", "type": "quantitative", "scale": {"domain": [0, 2000], "nice": false},
"axis": {"orient": "right", "title": null, "grid": false, "values": [0,200,400,600,800,1000,1200,1400,1600,1800,2000], "format": "d",
"labelFontSize": 11, "labelColor": "#333333", "labelPadding": 4, "tickSize": 5, "tickColor": "#333333", "domainColor": "#333333"}},
"color": {"datum": "伦敦金（右轴）", "type": "nominal",
"scale": {"range": ["#E89A3C"]},
"legend": {"orient": "none", "legendX": 699, "legendY": -36, "title": null, "padding": 0, "symbolType": "stroke", "symbolSize": 400, "symbolStrokeWidth": 2, "labelFont": "Noto Sans CJK SC", "labelFontSize": 25, "labelColor": "#111111", "labelLimit": 700, "labelOffset": 4}}
}
},
{
"data": {"name": "bands"},
"mark": {"type": "rect", "fillOpacity": 0.45, "stroke": "white", "strokeWidth": 1.4, "strokeOpacity": 1},
"encoding": {
"x": {"field": "s", "type": "temporal"},
"x2": {"field": "e"},
"y": {"datum": 20.6, "type": "quantitative", "scale": {"domain": [-10, 20], "nice": false, "zero": false}, "axis": null},
"y2": {"datum": -9.05},
"color": {"field": "p", "type": "nominal", "scale": {"domain": ["黄","绿","红","灰"], "range": ["#F9C41F","#0BB459","#F40000","#6B6B6B"]}, "legend": null}
}
}
],
"resolve": {"scale": {"y": "independent", "color": "independent"}, "legend": {"color": "independent"}}
}
